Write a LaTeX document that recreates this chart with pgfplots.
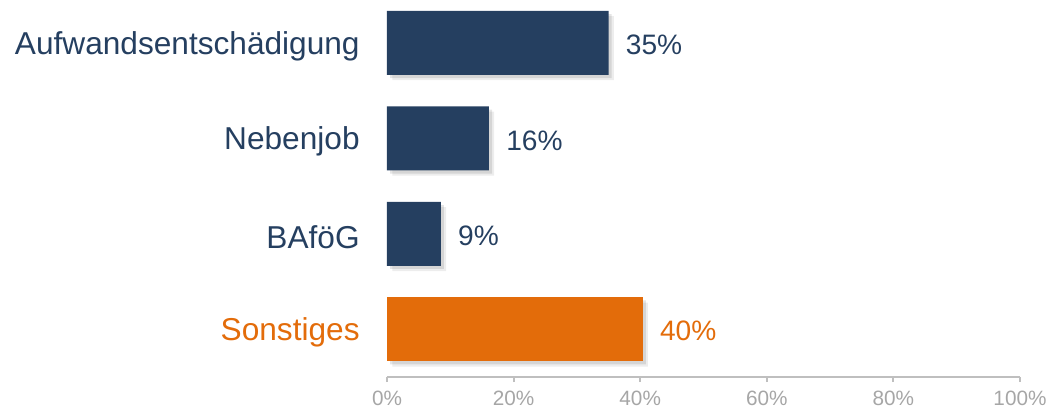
\documentclass[border=0pt]{standalone}
\usepackage{pgfplots}
\pgfplotsset{compat=1.18}
\usepackage{fontspec}
\setmainfont{Liberation Sans}

\definecolor{navy}{HTML}{253F60}
\definecolor{orng}{HTML}{E36C0A}
\definecolor{tickgray}{HTML}{A6A6A6}
\definecolor{linegray}{HTML}{BFBFBF}

\begin{document}
\begin{tikzpicture}
  \begin{axis}[
      name=ax,
      scale only axis,
      width=12.66cm, height=7.54cm,
      xbar, bar width=0.67, bar shift=0pt,
      xmin=0, xmax=100,
      ymin=-0.5, ymax=3.45,
      axis x line*=bottom, axis y line*=left,
      x axis line style={linegray, line width=1.1pt},
      y axis line style={draw=none},
      xtick={0,20,40,60,80,100},
      xticklabels={0\%,20\%,40\%,60\%,80\%,100\%},
      tick align=outside,
      x tick style={linegray, line width=1.1pt},
      major tick length=0.1cm,
      xticklabel style={font=\fontsize{11.8}{13}\selectfont, text=tickgray, yshift=-0.06cm},
      ytick={0,1,2,3},
      yticklabels={{\color{orng}Sonstiges},BAföG,Nebenjob,Aufwandsentschädigung},
      y tick style={draw=none},
      yticklabel style={font=\fontsize{18}{20}\selectfont, text=navy, anchor=east, inner sep=0pt, xshift=-0.44cm, yshift=-0.06cm},
      point meta=explicit symbolic,
      clip=false,
    ]
    % Schatten (zwei weiche Lagen)
    \addplot[forget plot, fill=black, draw=none, opacity=0.07, xshift=3pt, yshift=-3pt]
      coordinates {(35.0,3) (16.1,2) (8.5,1) (40.4,0)};
    \addplot[forget plot, fill=black, draw=none, opacity=0.10, xshift=1.8pt, yshift=-1.8pt]
      coordinates {(35.0,3) (16.1,2) (8.5,1) (40.4,0)};
    % Dunkelblaue Balken
    \addplot[fill=navy, draw=none, nodes near coords,
             nodes near coords style={anchor=west, inner sep=0pt, xshift=0.34cm, yshift=-0.04cm, text=navy, font=\fontsize{16}{18}\selectfont}]
      coordinates {
        (35.0,3) [35\%]
        (16.1,2) [16\%]
        (8.5,1)  [9\%]
      };
    % Sonstiges
    \addplot[fill=orng, draw=none, nodes near coords,
             nodes near coords style={anchor=west, inner sep=0pt, xshift=0.34cm, yshift=-0.04cm, text=orng, font=\fontsize{16}{18}\selectfont}]
      coordinates {
        (40.4,0) [40\%]
      };
    \coordinate (o) at (rel axis cs:0,0);
    \coordinate (t) at (rel axis cs:1,1);
  \end{axis}
  \path ([xshift=-7.74cm, yshift=-0.74cm]o) rectangle ([xshift=0.66cm]t);
\end{tikzpicture}
\end{document}
